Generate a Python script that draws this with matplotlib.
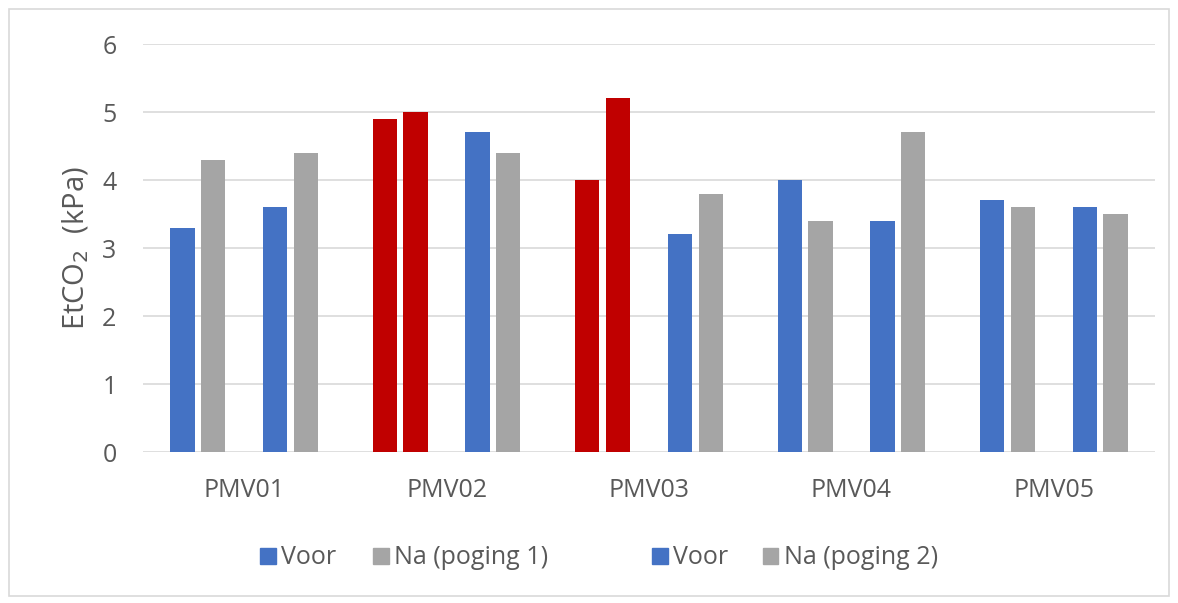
import matplotlib.pyplot as plt
from matplotlib.patches import Rectangle, Patch
import numpy as np

categories = ["PMV01", "PMV02", "PMV03", "PMV04", "PMV05"]
voor_1 = [3.3, 4.9, 4.0, 4.0, 3.7]
na_1 = [4.3, 5.0, 5.2, 3.4, 3.6]
voor_2 = [3.6, 4.7, 3.2, 3.4, 3.6]
na_2 = [4.4, 4.4, 3.8, 4.7, 3.5]
# pairs of attempt 1 highlighted in red
highlight_1 = [False, True, True, False, False]
legend_labels = ["Voor", "Na (poging 1)", "Voor", "Na (poging 2)"]

blue = "#4472C4"
gray = "#A5A5A5"
red = "#C00000"
txt = "#595959"

plt.rcParams['font.family'] = ['Open Sans', 'DejaVu Sans']

fig = plt.figure(figsize=(11.78, 6.03), dpi=100)
ax = fig.add_axes([143 / 1178, 1 - 452 / 603, 1012 / 1178, 408 / 603])

x = np.arange(len(categories))
w = 0.12
c1 = [red if h else blue for h in highlight_1]
c2 = [red if h else gray for h in highlight_1]
ax.bar(x - 0.305, voor_1, w, color=c1, zorder=3)
ax.bar(x - 0.153, na_1, w, color=c2, zorder=3)
ax.bar(x + 0.153, voor_2, w, color=blue, zorder=3)
ax.bar(x + 0.305, na_2, w, color=gray, zorder=3)

ax.set_xlim(-0.5, len(categories) - 0.5)
ax.set_ylim(0, 6)
ax.set_yticks(range(0, 7))
ax.set_xticks(x)
ax.set_xticklabels(categories)
ax.grid(axis='y', color='#D9D9D9', linewidth=1.2, zorder=0)
for s in ax.spines.values():
    s.set_visible(False)
ax.tick_params(length=0, labelsize=18, colors=txt)
ax.tick_params(axis='x', pad=19)
ax.tick_params(axis='y', pad=19)
ax.set_ylabel(r'EtCO$_2$  (kPa)', fontsize=21, color=txt, labelpad=8)

# one legend entry each, placed where the reference puts them
legend_kw = dict(loc='center left', frameon=False, fontsize=18,
                 handlelength=0.62, handleheight=0.62, handletextpad=0.22,
                 labelcolor=txt, borderpad=0, borderaxespad=0)
for col, lab, xl in zip([blue, gray, blue, gray], legend_labels,
                        [260, 373, 652, 763]):
    fig.legend([Patch(color=col)], [lab],
               bbox_to_anchor=(xl / 1178, 1 - 558 / 603), **legend_kw)

fig.patches.append(Rectangle((9 / 1178, 7 / 603), 1160 / 1178, 587 / 603,
                             transform=fig.transFigure, fill=False,
                             edgecolor='#D9D9D9', linewidth=1.2))

fig.savefig('out.png', dpi=100)
